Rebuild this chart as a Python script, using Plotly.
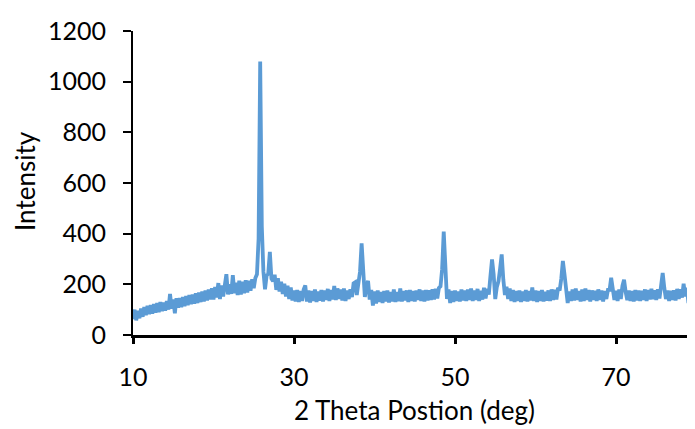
import numpy as np
import plotly.graph_objects as go

# 2-theta scan grid (deg), step 0.2
theta_start = 10.0
theta_step = 0.2

# Intensity, in 10-degree blocks (50 points each)
int_10_20 = [62, 100, 58, 95, 66, 104, 72, 110, 78, 115,
             82, 118, 84, 122, 88, 126, 90, 130, 94, 128,
             96, 134, 100, 162, 104, 140, 86, 145, 108, 146,
             110, 150, 114, 154, 118, 158, 122, 160, 124, 165,
             126, 168, 130, 172, 132, 176, 136, 180, 140, 184]
int_20_30 = [140, 190, 148, 205, 142, 196, 152, 210, 240, 160,
             200, 162, 236, 165, 206, 158, 214, 160, 210, 165,
             216, 168, 214, 175, 220, 185, 225, 240, 380, 1080,
             430, 250, 180, 235, 242, 328, 222, 212, 238, 178,
             224, 172, 210, 162, 202, 152, 194, 142, 188, 136]
int_30_40 = [176, 132, 178, 130, 174, 134, 180, 196, 132, 176,
             128, 174, 134, 180, 130, 172, 136, 178, 132, 176,
             138, 182, 134, 178, 140, 194, 138, 184, 142, 180,
             136, 184, 134, 176, 142, 180, 150, 204, 208, 158,
             194, 250, 362, 230, 150, 190, 214, 140, 178, 116]
int_40_50 = [172, 124, 176, 130, 170, 126, 174, 132, 176, 128,
             170, 132, 180, 130, 170, 134, 184, 132, 174, 136,
             176, 130, 178, 134, 174, 132, 176, 138, 180, 134,
             176, 132, 178, 136, 176, 138, 180, 140, 182, 144,
             186, 192, 260, 408, 250, 142, 180, 126, 174, 130]
int_50_60 = [176, 134, 172, 132, 180, 136, 176, 134, 180, 138,
             184, 134, 176, 138, 182, 134, 174, 140, 186, 144,
             182, 160, 232, 298, 240, 142, 190, 212, 262, 318,
             220, 158, 190, 142, 184, 134, 178, 130, 174, 134,
             176, 130, 172, 134, 178, 132, 174, 136, 188, 134]
int_60_70 = [176, 130, 174, 134, 178, 132, 170, 136, 176, 134,
             180, 138, 178, 140, 186, 176, 222, 292, 240, 162,
             126, 172, 134, 180, 136, 184, 138, 174, 132, 180,
             134, 184, 138, 178, 132, 176, 138, 174, 134, 180,
             138, 176, 132, 174, 142, 178, 178, 226, 176, 138]
int_70_80 = [174, 134, 180, 142, 194, 218, 170, 138, 176, 134,
             174, 132, 178, 136, 176, 134, 174, 138, 180, 134,
             178, 140, 182, 142, 176, 138, 180, 144, 194, 245,
             186, 142, 176, 134, 174, 138, 176, 136, 182, 142,
             180, 148, 202, 152, 186, 126, 174, 134, 182, 138, 170]

intensity = (int_10_20 + int_20_30 + int_30_40 + int_40_50
             + int_50_60 + int_60_70 + int_70_80)
two_theta = np.round(theta_start + theta_step * np.arange(len(intensity)), 2)

x_ticks = [10, 30, 50, 70]
y_ticks = [0, 200, 400, 600, 800, 1000, 1200]

FONT = "Lato"

# page has an 8px body margin; plot area in figure pixels
FIG_W, FIG_H = 695, 429
L, T, H = 125, 23, 304
W = FIG_W - L               # plot runs to the right edge of the page
PX_PER_DEG = 8.05
x_max = 10 + W / PX_PER_DEG

fig = go.Figure()
fig.add_trace(go.Scatter(
    x=two_theta, y=intensity, mode="lines",
    line=dict(color="#5B9BD5", width=3.8),
    showlegend=False, hoverinfo="skip",
))

fig.update_layout(
    width=FIG_W, height=FIG_H,
    margin=dict(l=L, r=0, t=T, b=FIG_H - T - H),
    paper_bgcolor="white", plot_bgcolor="white",
    font=dict(family=FONT, size=25, color="black"),
    xaxis=dict(
        range=[10, x_max], tickvals=x_ticks, ticktext=[str(v) for v in x_ticks],
        showgrid=False, zeroline=False,
        showline=True, linecolor="black", linewidth=3,
        ticks="outside", ticklen=6, tickwidth=3, tickcolor="black",
        ticklabelstandoff=12,
        tickfont=dict(family=FONT, size=25, color="black"),
    ),
    yaxis=dict(
        range=[0, 1200], tickvals=y_ticks, ticktext=[str(v) for v in y_ticks],
        showgrid=False, zeroline=False,
        showline=True, linecolor="black", linewidth=2,
        ticks="outside", ticklen=8, tickwidth=2, tickcolor="black",
        ticklabelstandoff=12,
        tickfont=dict(family=FONT, size=25, color="black"),
    ),
    annotations=[
        dict(text="Intensity", xref="paper", yref="paper",
             x=(17 - L) / W, y=(T + H - 173) / H,
             xanchor="center", yanchor="middle", textangle=-90,
             showarrow=False, font=dict(family=FONT, size=26, color="black")),
        dict(text="2 Theta Postion (deg)", xref="paper", yref="paper",
             x=(406 - L) / W, y=(T + H - 402) / H,
             xanchor="center", yanchor="middle",
             showarrow=False, font=dict(family=FONT, size=26, color="black")),
    ],
)

fig.write_html("out.html")
